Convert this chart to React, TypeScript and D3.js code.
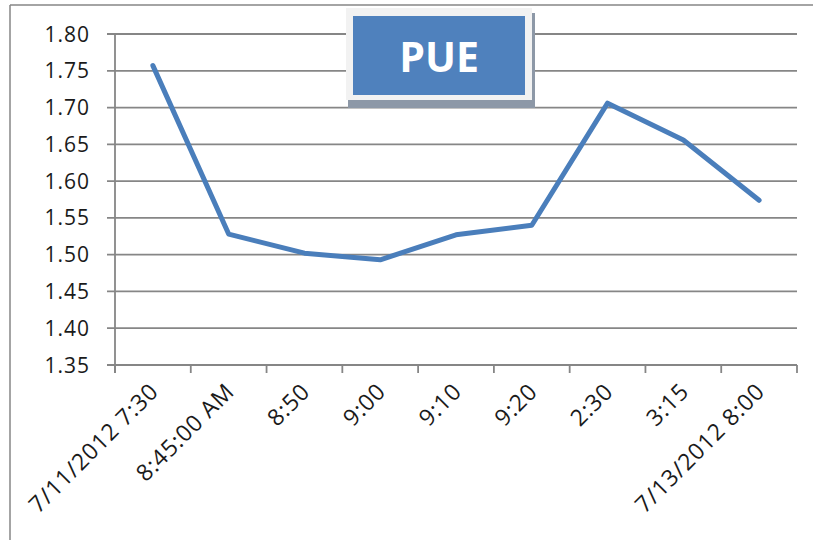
import React from "react";
import * as d3 from "d3";

const categories = [
  "7/11/2012 7:30",
  "8:45:00 AM",
  "8:50",
  "9:00",
  "9:10",
  "9:20",
  "2:30",
  "3:15",
  "7/13/2012 8:00",
];
const pueValues = [1.757, 1.528, 1.502, 1.493, 1.527, 1.540, 1.706, 1.656, 1.574];
const yTicks = [1.35, 1.4, 1.45, 1.5, 1.55, 1.6, 1.65, 1.7, 1.75, 1.8];
const chartTitle = "PUE";

const W = 813;
const H = 540;
const plot = { left: 115, right: 797, top: 34, bottom: 365 };
const FONT = "'Open Sans', 'Noto Sans', sans-serif";
const GRID = "#868686";
const BLUE = "#4a7ebb";

export default function App() {
  const x = d3
    .scaleBand<string>()
    .domain(categories)
    .range([plot.left, plot.right])
    .paddingInner(0)
    .paddingOuter(0);
  const y = d3.scaleLinear().domain([1.35, 1.8]).range([plot.bottom, plot.top]);

  const line = d3
    .line<number>()
    .x((_, i) => (x(categories[i]) as number) + x.bandwidth() / 2)
    .y((d) => y(d));

  const boundaries = categories.map((c) => x(c) as number).concat([plot.right]);

  return (
    <svg
      width={W}
      height={H}
      style={{ position: "absolute", left: 0, top: 0, background: "#fff" }}
    >
      <rect x={0} y={0} width={W} height={H} fill="#fff" />
      {/* outer border */}
      <line x1={10} y1={5} x2={W} y2={5} stroke={GRID} strokeWidth={1.5} />
      <line x1={10} y1={5} x2={10} y2={H} stroke={GRID} strokeWidth={1.5} />

      {/* gridlines */}
      {yTicks.map((t) => (
        <line
          key={"g" + t}
          x1={plot.left - 8}
          x2={plot.right}
          y1={y(t)}
          y2={y(t)}
          stroke={GRID}
          strokeWidth={1.8}
        />
      ))}
      {/* y axis */}
      <line x1={plot.left} x2={plot.left} y1={plot.top} y2={plot.bottom + 8} stroke={GRID} strokeWidth={1.8} />
      {/* x ticks */}
      {boundaries.map((b, i) => (
        <line key={"xt" + i} x1={b} x2={b} y1={plot.bottom} y2={plot.bottom + 8} stroke={GRID} strokeWidth={1.8} />
      ))}
      {/* y labels */}
      {yTicks.map((t) => (
        <text
          key={"yl" + t}
          x={90}
          y={y(t)}
          dy="0.36em"
          textAnchor="end"
          fontFamily={FONT}
          fontSize={21}
          letterSpacing={1}
          fill="#1a1a1a"
        >
          {t.toFixed(2)}
        </text>
      ))}
      {/* x labels */}
      {categories.map((c) => {
        const cx = (x(c) as number) + x.bandwidth() / 2 + 7;
        const cy = 393;
        return (
          <text
            key={"xl" + c}
            x={cx}
            y={cy}
            textAnchor="end"
            transform={`rotate(-45 ${cx} ${cy})`}
            fontFamily={FONT}
            fontSize={23}
            letterSpacing={0.8}
            fill="#1a1a1a"
          >
            {c}
          </text>
        );
      })}

      {/* series line */}
      <path
        d={line(pueValues) || ""}
        fill="none"
        stroke={BLUE}
        strokeWidth={5}
        strokeLinejoin="round"
        strokeLinecap="round"
      />

      {/* title box */}
      <rect x={348} y={13} width={187} height={95} fill="#8d98a7" />
      <rect x={346} y={8} width={186} height={92} fill="#f2f2f2" />
      <rect x={353} y={16} width={172} height={79} fill="#4f81bd" />
      <text
        x={439}
        y={72}
        textAnchor="middle"
        fontFamily={FONT}
        fontWeight="bold"
        fontSize={41}
        fill="#fff"
      >
        {chartTitle}
      </text>
    </svg>
  );
}
